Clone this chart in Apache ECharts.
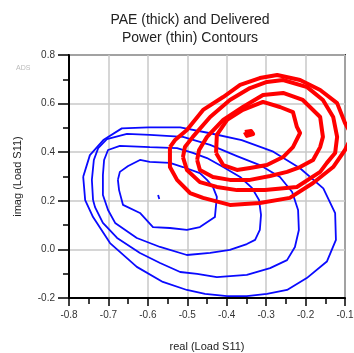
<!DOCTYPE html>
<html>
<head>
<meta charset="utf-8">
<script src="https://cdn.jsdelivr.net/npm/echarts@6/dist/echarts.min.js"></script>
<style>html,body{margin:0;padding:0;background:#fff}#c{width:354px;height:353px}</style>
</head>
<body>
<div id="c"></div>
<script>
// Delivered power contours (thin, blue)
const blue1 = [[-0.764,0.299],[-0.747,0.388],[-0.713,0.450],[-0.666,0.498],[-0.599,0.502],[-0.518,0.502],[-0.442,0.478],[-0.362,0.450],[-0.282,0.402],[-0.214,0.334],[-0.155,0.251],[-0.125,0.149],[-0.123,0.039],[-0.146,-0.050],[-0.197,-0.118],[-0.247,-0.167],[-0.298,-0.183],[-0.349,-0.192],[-0.399,-0.192],[-0.455,-0.183],[-0.501,-0.167],[-0.562,-0.134],[-0.628,-0.072],[-0.696,0.026],[-0.739,0.133],[-0.759,0.203],[-0.764,0.299]];
const blue2 = [[-0.739,0.203],[-0.742,0.286],[-0.737,0.368],[-0.726,0.417],[-0.704,0.454],[-0.653,0.475],[-0.595,0.471],[-0.511,0.463],[-0.442,0.430],[-0.374,0.384],[-0.316,0.347],[-0.265,0.298],[-0.234,0.236],[-0.219,0.162],[-0.217,0.080],[-0.227,0.010],[-0.247,-0.044],[-0.290,-0.077],[-0.349,-0.105],[-0.425,-0.114],[-0.475,-0.101],[-0.518,-0.093],[-0.569,-0.056],[-0.620,-0.015],[-0.678,0.047],[-0.714,0.109],[-0.734,0.174],[-0.739,0.203]];
const blue3 = [[-0.595,0.421],[-0.526,0.417],[-0.486,0.397],[-0.450,0.376],[-0.409,0.339],[-0.366,0.298],[-0.336,0.253],[-0.318,0.203],[-0.313,0.142],[-0.316,0.080],[-0.328,0.039],[-0.349,0.022],[-0.392,-0.002],[-0.442,-0.014],[-0.501,-0.023],[-0.569,0.010],[-0.628,0.047],[-0.683,0.109],[-0.701,0.162],[-0.714,0.224],[-0.714,0.306],[-0.711,0.368],[-0.701,0.409],[-0.671,0.426],[-0.595,0.421]];
const blue4 = [[-0.676,0.286],[-0.673,0.244],[-0.663,0.183],[-0.620,0.150],[-0.587,0.092],[-0.544,0.088],[-0.501,0.080],[-0.468,0.092],[-0.430,0.133],[-0.425,0.216],[-0.435,0.257],[-0.450,0.286],[-0.468,0.314],[-0.511,0.339],[-0.544,0.356],[-0.595,0.360],[-0.620,0.368],[-0.650,0.343],[-0.671,0.319],[-0.676,0.286]];
const blueCenter = [[-0.574,0.224],[-0.571,0.207]];
// PAE contours (thick, red)
const red1 = [[-0.544,0.421],[-0.544,0.339],[-0.526,0.286],[-0.493,0.232],[-0.460,0.212],[-0.392,0.183],[-0.316,0.191],[-0.240,0.212],[-0.181,0.273],[-0.130,0.339],[-0.100,0.409],[-0.082,0.467],[-0.100,0.520],[-0.120,0.602],[-0.163,0.656],[-0.214,0.697],[-0.272,0.718],[-0.316,0.705],[-0.366,0.677],[-0.409,0.627],[-0.460,0.574],[-0.501,0.491],[-0.531,0.450],[-0.544,0.421]];
const red2 = [[-0.511,0.380],[-0.501,0.327],[-0.468,0.277],[-0.425,0.257],[-0.374,0.244],[-0.303,0.244],[-0.222,0.257],[-0.163,0.319],[-0.146,0.356],[-0.125,0.397],[-0.120,0.463],[-0.130,0.545],[-0.156,0.615],[-0.196,0.668],[-0.257,0.697],[-0.298,0.689],[-0.341,0.664],[-0.392,0.615],[-0.442,0.545],[-0.486,0.463],[-0.506,0.421],[-0.511,0.380]];
const red3 = [[-0.475,0.368],[-0.468,0.327],[-0.435,0.298],[-0.392,0.286],[-0.341,0.286],[-0.290,0.302],[-0.247,0.319],[-0.214,0.339],[-0.181,0.368],[-0.163,0.421],[-0.156,0.463],[-0.163,0.545],[-0.207,0.615],[-0.257,0.644],[-0.308,0.635],[-0.359,0.586],[-0.409,0.533],[-0.450,0.463],[-0.470,0.409],[-0.475,0.368]];
const red4 = [[-0.427,0.397],[-0.409,0.347],[-0.374,0.327],[-0.341,0.335],[-0.298,0.347],[-0.257,0.380],[-0.232,0.421],[-0.214,0.479],[-0.222,0.504],[-0.232,0.565],[-0.265,0.586],[-0.308,0.607],[-0.359,0.574],[-0.399,0.533],[-0.425,0.471],[-0.427,0.397]];
const redCenter = [[-0.354,0.483],[-0.338,0.487],[-0.333,0.475],[-0.349,0.467],[-0.354,0.483]];

const FONT = 'Liberation Sans, Arial, sans-serif';
function contour(data, color, width) {
  return { type: 'line', data: data, showSymbol: false, symbol: 'none', clip: true,
    lineStyle: { color: color, width: width, join: 'round' }, animation: false, silent: true };
}
const chart = echarts.init(document.getElementById('c'), null, { renderer: 'canvas' });
chart.setOption({
  animation: false,
  title: [
    { text: 'PAE (thick) and Delivered\nPower (thin) Contours', left: 185, top: 6, textAlign: 'center',
      textStyle: { fontFamily: FONT, fontSize: 14, fontWeight: 'normal', color: '#222', lineHeight: 18, align: 'center' } },
    { text: 'ADS', left: 11, top: 60, textStyle: { fontFamily: FONT, fontSize: 7, fontWeight: 'normal', color: '#bbb' } }
  ],
  grid: { left: 69, right: 9, top: 55, bottom: 55, show: true, borderColor: '#333', borderWidth: 2,
    containLabel: false, outerBoundsMode: 'none' },
  xAxis: {
    type: 'value', min: -0.8, max: -0.1, interval: 0.1,
    name: 'real (Load S11)', nameLocation: 'middle', nameGap: 43,
    nameTextStyle: { fontFamily: FONT, fontSize: 11, color: '#222' },
    axisLine: { show: true, onZero: false, lineStyle: { color: '#000', width: 2 } },
    axisTick: { show: true, length: 8, lineStyle: { color: '#000', width: 1.5 } },
    minorTick: { show: true, splitNumber: 2, length: 6, lineStyle: { color: '#000', width: 1.5 } },
    axisLabel: { fontFamily: FONT, fontSize: 10, color: '#333', margin: 12, formatter: v => v.toFixed(1) },
    splitLine: { show: true, lineStyle: { color: '#c8c8c8', width: 1.5 } }
  },
  yAxis: {
    type: 'value', min: -0.2, max: 0.8, interval: 0.2,
    name: 'imag (Load S11)', nameLocation: 'middle', nameGap: 46, nameRotate: 90,
    nameTextStyle: { fontFamily: FONT, fontSize: 11, color: '#222' },
    axisLine: { show: true, onZero: false, lineStyle: { color: '#000', width: 2 } },
    axisTick: { show: true, length: 11, lineStyle: { color: '#000', width: 1.5 } },
    minorTick: { show: true, splitNumber: 2, length: 6, lineStyle: { color: '#000', width: 1.5 } },
    axisLabel: { fontFamily: FONT, fontSize: 10, color: '#333', margin: 14, formatter: v => v.toFixed(1) },
    splitLine: { show: true, lineStyle: { color: '#c8c8c8', width: 1.5 } }
  },
  series: [
    contour(blue1, '#0a0aff', 1.8),
    contour(blue2, '#0a0aff', 1.8),
    contour(blue3, '#0a0aff', 1.8),
    contour(blue4, '#0a0aff', 1.8),
    contour(blueCenter, '#0a0aff', 1.8),
    contour(red1, '#ff0000', 4),
    contour(red2, '#ff0000', 4),
    contour(red3, '#ff0000', 4),
    contour(red4, '#ff0000', 4),
    contour(redCenter, '#ff0000', 4)
  ]
});
</script>
</body>
</html>
